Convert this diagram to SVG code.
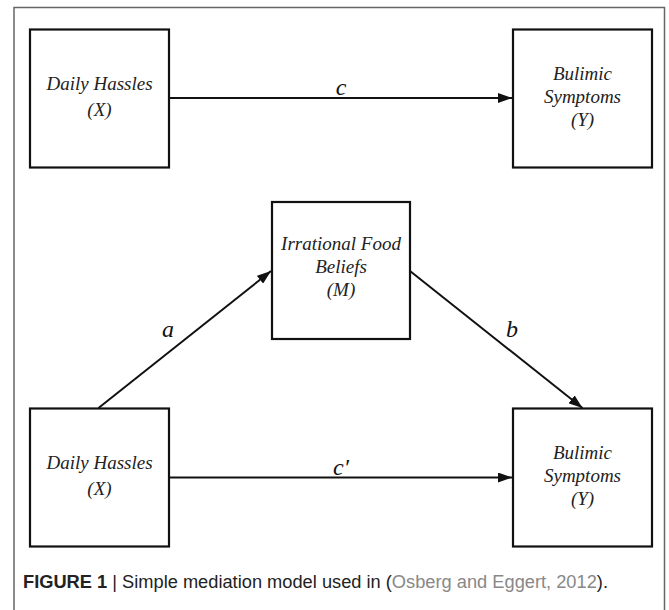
<svg xmlns="http://www.w3.org/2000/svg" width="669" height="610" viewBox="0 0 669 610">
<style>
.frame{fill:none;stroke:#666;stroke-width:1.5}
.box{fill:#fff;stroke:#111;stroke-width:2.2}
.t{font-family:"Liberation Serif","Times New Roman",serif;font-style:italic;font-size:19px;fill:#222;text-anchor:middle}
.lbl{font-family:"Liberation Serif","Times New Roman",serif;font-style:italic;font-size:24px;fill:#111;text-anchor:middle}
.edge{stroke:#111;stroke-width:2;fill:none;marker-end:url(#ah)}
.cap{font-family:"Liberation Sans",Arial,sans-serif;font-size:17.5px;fill:#222}
</style>
<defs>
<marker id="ah" viewBox="0 0 14 10" refX="14" refY="5" markerWidth="14" markerHeight="10" markerUnits="userSpaceOnUse" orient="auto">
<path d="M0,0 L14,5 L0,10 Z" fill="#111"/>
</marker>
</defs>
<rect width="669" height="610" fill="#fff"/>
<path class="frame" d="M14,612 V7.5 H664.5 V612"/>
<g id="connectors">
<line class="edge" x1="170" y1="98" x2="512" y2="98"/>
<line class="edge" x1="98.5" y1="408" x2="271" y2="271"/>
<line class="edge" x1="410" y1="271" x2="582.5" y2="408"/>
<line class="edge" x1="170" y1="477.5" x2="512" y2="477.5"/>
<text class="lbl" x="341" y="95">c</text>
<text class="lbl" x="168" y="337">a</text>
<text class="lbl" x="512" y="337">b</text>
<text class="lbl" x="341" y="475">c′</text>
</g>
<g id="x-top">
<rect class="box" x="30" y="29.5" width="139" height="138"/>
<text class="t" x="99.5" y="90">Daily Hassles</text>
<text class="t" x="99.5" y="116">(X)</text>
</g>
<g id="y-top">
<rect class="box" x="513" y="29.5" width="139" height="138"/>
<text class="t" x="582.5" y="80">Bulimic</text>
<text class="t" x="582.5" y="103">Symptoms</text>
<text class="t" x="582.5" y="126">(Y)</text>
</g>
<g id="m">
<rect class="box" x="272" y="202" width="138" height="137"/>
<text class="t" x="341" y="250">Irrational Food</text>
<text class="t" x="341" y="273">Beliefs</text>
<text class="t" x="341" y="296">(M)</text>
</g>
<g id="x-bottom">
<rect class="box" x="30" y="408.5" width="139" height="138"/>
<text class="t" x="99.5" y="469">Daily Hassles</text>
<text class="t" x="99.5" y="495">(X)</text>
</g>
<g id="y-bottom">
<rect class="box" x="513" y="408.5" width="139" height="138"/>
<text class="t" x="582.5" y="459">Bulimic</text>
<text class="t" x="582.5" y="482">Symptoms</text>
<text class="t" x="582.5" y="505">(Y)</text>
</g>
<g id="caption">
<text class="cap" x="23" y="588" textLength="585" lengthAdjust="spacingAndGlyphs"><tspan font-weight="bold">FIGURE 1</tspan> | Simple mediation model used in (<tspan fill="#888">Osberg and Eggert, 2012</tspan>).</text>
</g>
</svg>
